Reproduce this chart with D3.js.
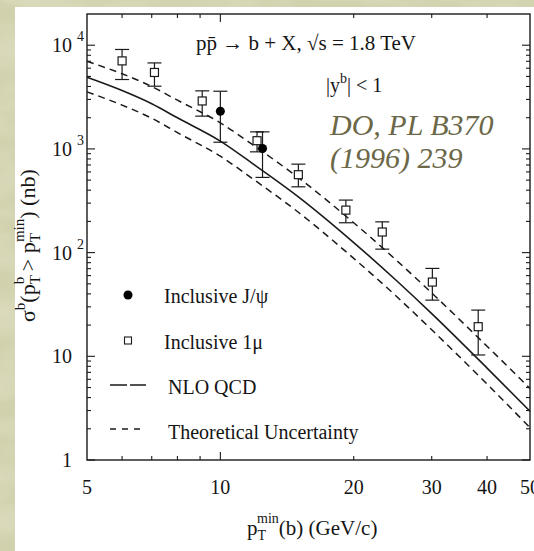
<!DOCTYPE html>
<html>
<head>
<meta charset="utf-8">
<script src="https://cdn.jsdelivr.net/npm/d3@7"></script>
<style>
  html, body { margin: 0; padding: 0; background: #d4d3b1; }
  svg { display: block; }
  text { font-family: "Liberation Serif", "Times New Roman", serif; fill: #151515; }
</style>
</head>
<body>
<svg id="chart" width="534" height="551"></svg>
<script>
// Inclusive single-muon measurement: pT_min (GeV/c), sigma (nb), error bar ends
const muPt    = [6.0, 7.1, 9.1, 12.1, 15.0, 19.2, 23.2, 30.1, 38.2];
const muSigma = [7060, 5460, 2900, 1200, 564, 257, 158, 52, 19.3];
const muHigh  = [9100, 6750, 3630, 1460, 713, 321, 198, 70.4, 27.9];
const muLow   = [4670, 4025, 2070, 937, 431, 194, 108, 34.8, 10.3];

// Inclusive J/psi measurement
const psiPt    = [10.0, 12.45];
const psiSigma = [2310, 1010];
const psiHigh  = [3600, 1460];
const psiLow   = [1160, 531];

// NLO QCD prediction with its uncertainty band
const theoryPt   = [5, 6, 7, 8, 10, 12, 15, 20, 25, 30, 40, 50];
const nloCentral = [4900, 3650, 2724, 1996, 1190, 690, 345, 125, 53.5, 25.8, 7.7, 2.95];
const nloUpper   = [7000, 5300, 4000, 2950, 1785, 1050, 528, 194, 84, 40.8, 12.5, 4.9];
const nloLower   = [3550, 2645, 1974, 1436, 850, 493, 245, 88, 37.7, 18, 5.4, 2.05];

// Axis ticks
const xLabelTicks = [5, 10, 20, 30, 40, 50];
const xMajorTicks = [10];
const xMinorTicks = [6, 7, 8, 9, 20, 30, 40];
const yDecades    = [1, 10, 100, 1000, 10000];
const yExponents  = ["", "", "2", "3", "4"];
const yBaseLabels = ["1", "10", "10", "10", "10"];

const legendItems = ["Inclusive J/\u03C8", "Inclusive 1\u03BC", "NLO QCD", "Theoretical Uncertainty"];

const svg = d3.select("#chart");
const ink = "#1a1a1a";

// mottled backdrop
const defs = svg.append("defs");
const f = defs.append("filter").attr("id", "mottle").attr("x", 0).attr("y", 0).attr("width", 1).attr("height", 1);
f.append("feTurbulence").attr("type", "fractalNoise").attr("baseFrequency", "0.012 0.03").attr("numOctaves", 3).attr("seed", 7);
f.append("feColorMatrix").attr("type", "matrix")
  .attr("values", "0 0 0 0 1  0 0 0 0 1  0 0 0 0 0.93  0 0 0 0.55 -0.18");
svg.append("rect").attr("width", 534).attr("height", 551).attr("fill", "#d2d1ae");
svg.append("rect").attr("width", 534).attr("height", 551).attr("filter", "url(#mottle)").attr("opacity", 0.8);

// paper panel
svg.append("rect").attr("x", 15).attr("y", 7).attr("width", 519).attr("height", 544).attr("fill", "#ffffff");

const x = d3.scaleLog().domain([5, 50]).range([87, 530]);
const y = d3.scaleLog().domain([1, 20000]).range([460, 14]);

const [x0, x1] = x.range();
const [y0, y1] = y.range();

// frame
svg.append("rect")
  .attr("x", x0).attr("y", y1).attr("width", x1 - x0).attr("height", y0 - y1)
  .attr("fill", "none").attr("stroke", ink).attr("stroke-width", 1.4);

// ticks (pointing inward on all four sides)
const yMinor = [];
yDecades.slice(0, 4).forEach(d => { for (let k = 2; k <= 9; k++) yMinor.push(d * k); });

const tickG = svg.append("g").attr("stroke", ink).attr("stroke-width", 1.1);
function yTicks(vals, len) {
  vals.forEach(v => {
    tickG.append("line").attr("x1", x0).attr("x2", x0 + len).attr("y1", y(v)).attr("y2", y(v));
    tickG.append("line").attr("x1", x1).attr("x2", x1 - len).attr("y1", y(v)).attr("y2", y(v));
  });
}
function xTicks(vals, len) {
  vals.forEach(v => {
    tickG.append("line").attr("x1", x(v)).attr("x2", x(v)).attr("y1", y0).attr("y2", y0 - len);
    tickG.append("line").attr("x1", x(v)).attr("x2", x(v)).attr("y1", y1).attr("y2", y1 + len);
  });
}
yTicks(yDecades, 8);
yTicks(yMinor, 4);
xTicks(xMajorTicks, 8);
xTicks(xMinorTicks, 4);

// x tick labels
svg.append("g").selectAll("text").data(xLabelTicks).join("text")
  .attr("x", d => x(d)).attr("y", 494)
  .attr("text-anchor", "middle").attr("font-size", 20)
  .text(d => d);

// y tick labels with exponents
yDecades.forEach((d, i) => {
  svg.append("text").attr("x", 72).attr("y", y(d) + 7)
    .attr("text-anchor", "end").attr("font-size", 20).text(yBaseLabels[i]);
  if (yExponents[i]) {
    svg.append("text").attr("x", 77).attr("y", y(d) - 4)
      .attr("font-size", 14).text(yExponents[i]);
  }
});

// theory curves
const curve = (vals) => d3.line()
  .x((d, i) => x(theoryPt[i]))
  .y(d => y(d))
  .curve(d3.curveMonotoneX)(vals);

svg.append("path").attr("d", curve(nloUpper)).attr("fill", "none")
  .attr("stroke", ink).attr("stroke-width", 1.5).attr("stroke-dasharray", "7,5");
svg.append("path").attr("d", curve(nloLower)).attr("fill", "none")
  .attr("stroke", ink).attr("stroke-width", 1.5).attr("stroke-dasharray", "7,5");
svg.append("path").attr("d", curve(nloCentral)).attr("fill", "none")
  .attr("stroke", ink).attr("stroke-width", 1.6);

// error bars
function errorBars(pt, hi, lo) {
  const g = svg.append("g").attr("stroke", ink).attr("stroke-width", 1.2);
  pt.forEach((p, i) => {
    const cx = x(p);
    g.append("line").attr("x1", cx).attr("x2", cx).attr("y1", y(hi[i])).attr("y2", y(lo[i]));
    g.append("line").attr("x1", cx - 7).attr("x2", cx + 7).attr("y1", y(hi[i])).attr("y2", y(hi[i]));
    g.append("line").attr("x1", cx - 7).attr("x2", cx + 7).attr("y1", y(lo[i])).attr("y2", y(lo[i]));
  });
}
errorBars(muPt, muHigh, muLow);
errorBars(psiPt, psiHigh, psiLow);

// open squares
svg.append("g").selectAll("rect").data(muSigma).join("rect")
  .attr("x", (d, i) => x(muPt[i]) - 4).attr("y", d => y(d) - 4)
  .attr("width", 8).attr("height", 8)
  .attr("fill", "#fff").attr("stroke", ink).attr("stroke-width", 1.2);

// filled circles
svg.append("g").selectAll("circle").data(psiSigma).join("circle")
  .attr("cx", (d, i) => x(psiPt[i])).attr("cy", d => y(d)).attr("r", 4.5)
  .attr("fill", "#000");

// legend
const lx = 128;
svg.append("circle").attr("cx", lx).attr("cy", 295).attr("r", 4.5).attr("fill", "#000");
svg.append("rect").attr("x", lx - 3.5).attr("y", 337).attr("width", 7).attr("height", 7)
  .attr("fill", "#fff").attr("stroke", ink).attr("stroke-width", 1.1);
svg.append("line").attr("x1", 110).attr("x2", 146).attr("y1", 385).attr("y2", 385)
  .attr("stroke", ink).attr("stroke-width", 1.3).attr("stroke-dasharray", "17,3,16");
svg.append("line").attr("x1", 110).attr("x2", 141).attr("y1", 429).attr("y2", 429)
  .attr("stroke", ink).attr("stroke-width", 1.3).attr("stroke-dasharray", "6,6");

const legendX = [164, 164, 168, 168];
const legendY = [303, 349, 394, 439];
svg.append("g").selectAll("text").data(legendItems).join("text")
  .attr("x", (d, i) => legendX[i]).attr("y", (d, i) => legendY[i])
  .attr("font-size", 20).text(d => d);

// process label
const title = svg.append("text").attr("x", 196).attr("y", 50).attr("font-size", 21);
title.append("tspan").text("p");
title.append("tspan").text("p\u0304");
title.append("tspan").text(" \u2192 b + X, \u221As = 1.8 TeV");

// rapidity cut
const rap = svg.append("text").attr("x", 326).attr("y", 92).attr("font-size", 20);
rap.append("tspan").text("|y");
rap.append("tspan").attr("font-size", 14).attr("dy", -9).text("b");
rap.append("tspan").attr("dy", 9).text("| < 1");

// reference note
const note = svg.append("g").attr("font-style", "italic");
note.append("text").attr("x", 330).attr("y", 135).attr("font-size", 30)
  .style("fill", "#6b6747").text("DO, PL B370");
note.append("text").attr("x", 330).attr("y", 168).attr("font-size", 30)
  .style("fill", "#6b6747").text("(1996) 239");

// x axis title: p_T^min(b) (GeV/c)
const xt = svg.append("text").attr("x", 247).attr("y", 535).attr("font-size", 21);
xt.append("tspan").text("p");
xt.append("tspan").attr("font-size", 14).attr("dy", 5).text("T");
xt.append("tspan").attr("font-size", 14).attr("dx", -9).attr("dy", -17).text("min");
xt.append("tspan").attr("dy", 12).text("(b) (GeV/c)");

// y axis title: sigma^b(p_T^b > p_T^min) (nb)
const yt = svg.append("text").attr("transform", "translate(35,322) rotate(-90)").attr("font-size", 22);
yt.append("tspan").text("\u03C3");
yt.append("tspan").attr("font-size", 15).attr("dy", -10).text("b");
yt.append("tspan").attr("dy", 10).text("(p");
yt.append("tspan").attr("font-size", 15).attr("dy", 5).text("T");
yt.append("tspan").attr("font-size", 15).attr("dx", -9).attr("dy", -16).text("b");
yt.append("tspan").attr("dy", 11).text(" > p");
yt.append("tspan").attr("font-size", 15).attr("dy", 5).text("T");
yt.append("tspan").attr("font-size", 15).attr("dx", -9).attr("dy", -16).text("min");
yt.append("tspan").attr("dy", 11).text(") (nb)");
</script>
</body>
</html>
